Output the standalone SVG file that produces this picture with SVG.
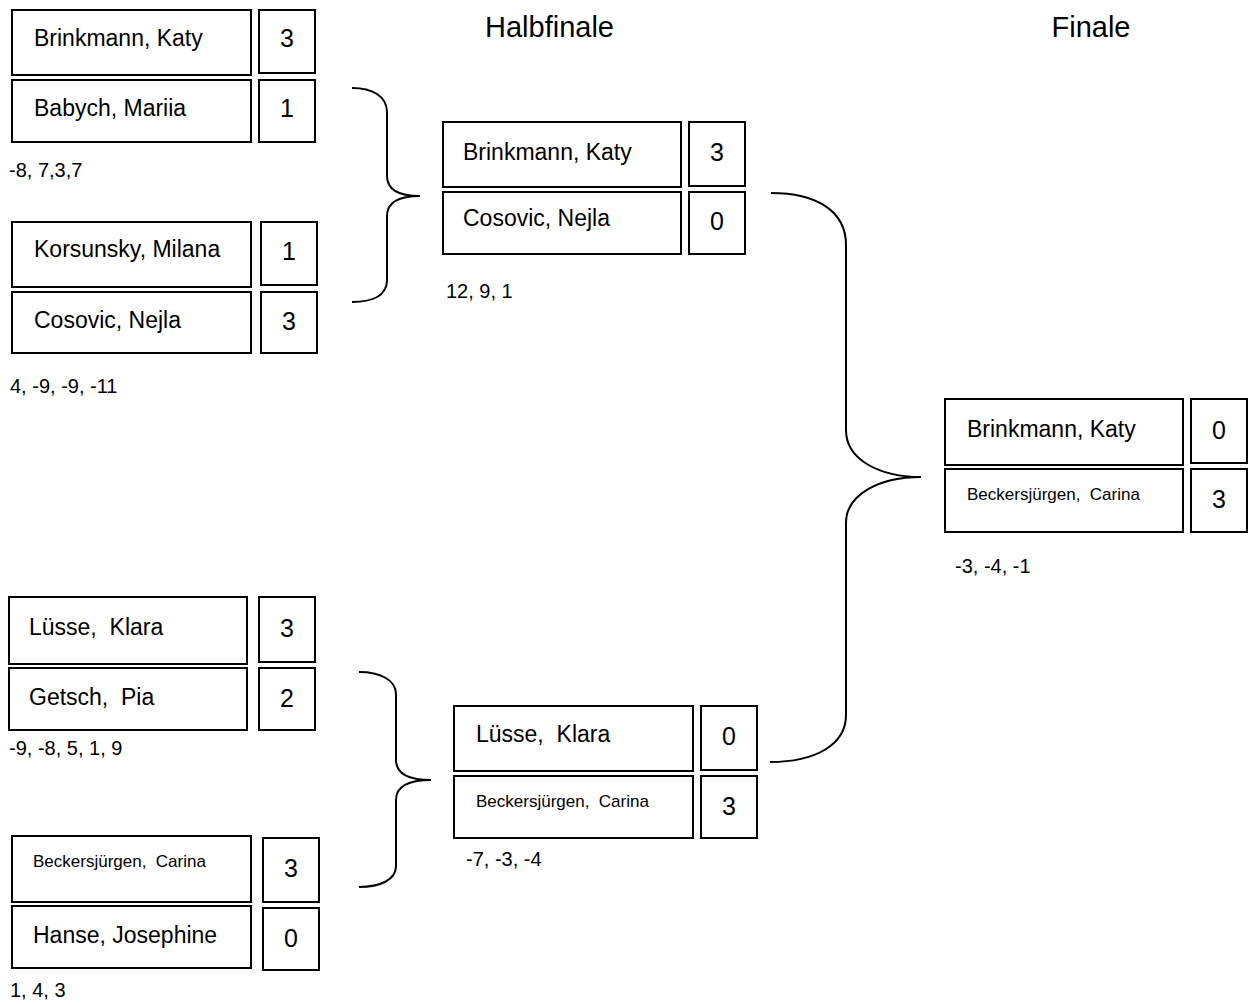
<svg xmlns="http://www.w3.org/2000/svg" width="1250" height="1004" viewBox="0 0 1250 1004">
<style>
  .box { fill: #ffffff; stroke: #000000; stroke-width: 2; }
  .name { font-family: "Liberation Sans", Arial, sans-serif; font-size: 23px; fill: #000000; white-space: pre; }
  .small { font-family: "Liberation Sans", Arial, sans-serif; font-size: 17px; fill: #000000; white-space: pre; }
  .score { font-family: "Liberation Sans", Arial, sans-serif; font-size: 25px; fill: #000000; text-anchor: middle; }
  .res { font-family: "Liberation Sans", Arial, sans-serif; font-size: 20px; fill: #000000; }
  .title { font-family: "Liberation Sans", Arial, sans-serif; font-size: 29px; fill: #000000; text-anchor: middle; }
  .conn { fill: none; stroke: #000000; stroke-width: 2; }
</style>
<rect width="1250" height="1004" fill="#ffffff"/>

<text class="title" x="549.5" y="37">Halbfinale</text>
<text class="title" x="1091" y="37">Finale</text>

<g id="connectors">
  <path class="conn" d="M352,88 C372,88 387,96 387,112 L387,176 C387,190 400,196 420,196 C400,196 387,202 387,216 L387,280 C387,296 372,302 352,302"/>
  <path class="conn" d="M359,672 C380,672 396,680 396,694 L396,760 C396,774 410,780 431,780 C410,780 396,786 396,800 L396,866 C396,880 380,887 359,887"/>
  <path class="conn" d="M771,193 C815,193 846,210 846,245 L846,430 C846,460 880,477 921,477 C880,477 846,494 846,523 L846,715 C846,745 815,762 770,762"/>
</g>

<g id="r1-brinkmann">
  <rect class="box" x="12" y="10" width="239" height="65"/>
  <text class="name" x="34" y="46">Brinkmann, Katy</text>
  <rect class="box" x="259" y="10" width="56" height="63"/>
  <text class="score" x="287" y="47">3</text>
</g>
<g id="r1-babych">
  <rect class="box" x="12" y="80" width="239" height="62"/>
  <text class="name" x="34" y="116">Babych, Mariia</text>
  <rect class="box" x="259" y="80" width="56" height="62"/>
  <text class="score" x="287" y="117">1</text>
</g>
<text class="res" x="9" y="177">-8, 7,3,7</text>

<g id="r1-korsunsky">
  <rect class="box" x="12" y="222" width="239" height="65"/>
  <text class="name" x="34" y="257">Korsunsky, Milana</text>
  <rect class="box" x="261" y="222" width="56" height="63"/>
  <text class="score" x="289" y="260">1</text>
</g>
<g id="r1-cosovic">
  <rect class="box" x="12" y="292" width="239" height="61"/>
  <text class="name" x="34" y="328">Cosovic, Nejla</text>
  <rect class="box" x="261" y="292" width="56" height="61"/>
  <text class="score" x="289" y="330">3</text>
</g>
<text class="res" x="10" y="393">4, -9, -9, -11</text>

<g id="r1-luesse">
  <rect class="box" x="9" y="597" width="238" height="67"/>
  <text class="name" x="29" y="635">Lüsse,  Klara</text>
  <rect class="box" x="259" y="597" width="56" height="65"/>
  <text class="score" x="287" y="637">3</text>
</g>
<g id="r1-getsch">
  <rect class="box" x="9" y="668" width="238" height="62"/>
  <text class="name" x="29" y="705">Getsch,  Pia</text>
  <rect class="box" x="259" y="668" width="56" height="62"/>
  <text class="score" x="287" y="707">2</text>
</g>
<text class="res" x="9" y="755">-9, -8, 5, 1, 9</text>

<g id="r1-beckersjuergen">
  <rect class="box" x="12" y="836" width="239" height="66"/>
  <text class="small" x="33" y="867">Beckersjürgen,  Carina</text>
  <rect class="box" x="263" y="838" width="56" height="64"/>
  <text class="score" x="291" y="877">3</text>
</g>
<g id="r1-hanse">
  <rect class="box" x="12" y="906" width="239" height="62"/>
  <text class="name" x="33" y="943">Hanse, Josephine</text>
  <rect class="box" x="263" y="908" width="56" height="62"/>
  <text class="score" x="291" y="947">0</text>
</g>
<text class="res" x="10" y="997">1, 4, 3</text>

<g id="sf-brinkmann">
  <rect class="box" x="443" y="122" width="238" height="65"/>
  <text class="name" x="463" y="160">Brinkmann, Katy</text>
  <rect class="box" x="689" y="122" width="56" height="64"/>
  <text class="score" x="717" y="161">3</text>
</g>
<g id="sf-cosovic">
  <rect class="box" x="443" y="192" width="238" height="62"/>
  <text class="name" x="463" y="226">Cosovic, Nejla</text>
  <rect class="box" x="689" y="192" width="56" height="62"/>
  <text class="score" x="717" y="230">0</text>
</g>
<text class="res" x="446" y="298">12, 9, 1</text>

<g id="sf-luesse">
  <rect class="box" x="454" y="706" width="239" height="65"/>
  <text class="name" x="476" y="742">Lüsse,  Klara</text>
  <rect class="box" x="701" y="706" width="56" height="64"/>
  <text class="score" x="729" y="745">0</text>
</g>
<g id="sf-beckersjuergen">
  <rect class="box" x="454" y="776" width="239" height="62"/>
  <text class="small" x="476" y="807">Beckersjürgen,  Carina</text>
  <rect class="box" x="701" y="776" width="56" height="62"/>
  <text class="score" x="729" y="815">3</text>
</g>
<text class="res" x="466" y="866">-7, -3, -4</text>

<g id="f-brinkmann">
  <rect class="box" x="945" y="399" width="238" height="66"/>
  <text class="name" x="967" y="437">Brinkmann, Katy</text>
  <rect class="box" x="1191" y="399" width="56" height="64"/>
  <text class="score" x="1219" y="439">0</text>
</g>
<g id="f-beckersjuergen">
  <rect class="box" x="945" y="469" width="238" height="63"/>
  <text class="small" x="967" y="500">Beckersjürgen,  Carina</text>
  <rect class="box" x="1191" y="469" width="56" height="63"/>
  <text class="score" x="1219" y="508">3</text>
</g>
<text class="res" x="955" y="573">-3, -4, -1</text>
</svg>
